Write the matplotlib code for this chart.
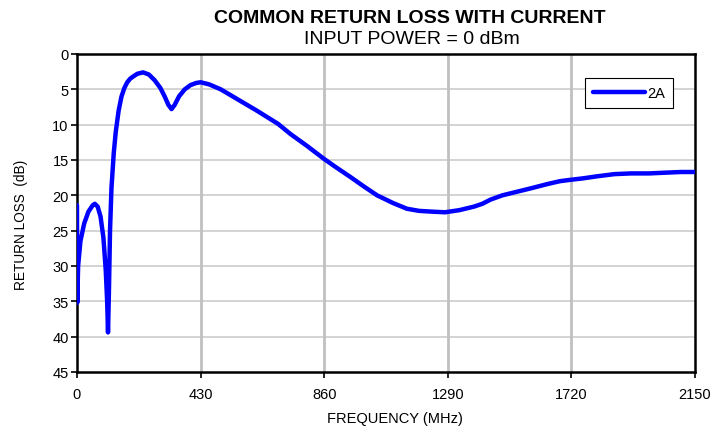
import numpy as np
import matplotlib.pyplot as plt

plt.rcParams['font.family'] = ['Liberation Sans', 'DejaVu Sans']

# data (frequency in MHz, return loss in dB)
freq_mhz = [0, 1, 4, 12, 25, 40, 55, 62, 72, 82, 92, 100, 105, 108, 111,
            115, 120, 128, 135, 145, 155, 165, 175, 185, 195, 210, 230, 250,
            270, 290, 305, 318, 329, 340, 355, 375, 395, 415, 430, 460, 500,
            550, 625, 700, 742, 800, 858, 900, 951, 1000, 1044, 1100, 1148,
            1190, 1230, 1280, 1330, 1381, 1410, 1439, 1480, 1520, 1580, 1637,
            1680, 1718, 1760, 1811, 1870, 1927, 1990, 2044, 2100, 2150]
return_loss = [21.4, 35.2, 30.0, 26.5, 24.0, 22.3, 21.4, 21.2, 21.6, 23.0,
               26.0, 30.5, 35.0, 39.4, 34.0, 25.0, 19.0, 14.0, 11.0, 8.0,
               6.0, 4.8, 4.0, 3.5, 3.2, 2.8, 2.6, 2.9, 3.7, 4.8, 6.0, 7.2,
               7.8, 7.2, 6.0, 5.0, 4.4, 4.1, 4.0, 4.3, 5.0, 6.2, 8.0, 9.9,
               11.3, 13.0, 14.8, 16.0, 17.4, 18.8, 20.0, 21.1, 21.9, 22.2,
               22.3, 22.4, 22.1, 21.6, 21.2, 20.6, 20.0, 19.6, 19.0, 18.4,
               18.0, 17.8, 17.6, 17.3, 17.0, 16.9, 16.9, 16.8, 16.7, 16.7]

x_ticks = [0, 430, 860, 1290, 1720, 2150]
y_ticks = list(range(0, 50, 5))

fig = plt.figure(figsize=(7.22, 4.31), dpi=100)
ax = fig.add_axes([0.1066, 0.1346, 0.8560, 0.7378])

ax.plot(freq_mhz, return_loss, color='#0000ff', linewidth=3.2,
        solid_joinstyle='round', solid_capstyle='round', label='2A', zorder=3)

ax.set_xlim(0, 2150)
ax.set_ylim(45, 0)
ax.set_xticks(x_ticks)
ax.set_yticks(y_ticks)

# horizontal grid is lighter/thinner than vertical grid
for y in y_ticks[1:-1]:
    ax.axhline(y, color='#d0d0d0', linewidth=1.3, zorder=1)
for x in x_ticks[1:-1]:
    ax.axvline(x, color='#c0c0c0', linewidth=2.0, zorder=1)

for sp in ax.spines.values():
    sp.set_linewidth(1.8)
    sp.set_color('black')

ax.tick_params(axis='both', direction='out', length=4, width=1.2,
               labelsize=10.5, colors='black')
ax.tick_params(axis='x', pad=7)
ax.tick_params(axis='y', pad=2)

ax.set_xlabel('FREQUENCY (MHz)', fontsize=10.5)
ax.xaxis.set_label_coords(0.515, -0.123)
ax.set_ylabel('RETURN LOSS  (dB)', fontsize=9.8)
ax.yaxis.set_label_coords(-0.080, 0.465)

fig.text(0.568, 0.958, 'COMMON RETURN LOSS WITH CURRENT', ha='center',
         va='center', fontsize=14, fontweight='bold')
fig.text(0.570, 0.908, 'INPUT POWER = 0 dBm', ha='center', va='center',
         fontsize=14)

leg = ax.legend(loc='upper right', bbox_to_anchor=(0.976, 0.9465),
                fontsize=10.5, handlelength=3.55, handletextpad=0.15,
                borderpad=0.55, fancybox=False, framealpha=1)
leg.get_frame().set_edgecolor('black')
leg.get_frame().set_linewidth(0.8)

fig.savefig('out.png', dpi=100)
